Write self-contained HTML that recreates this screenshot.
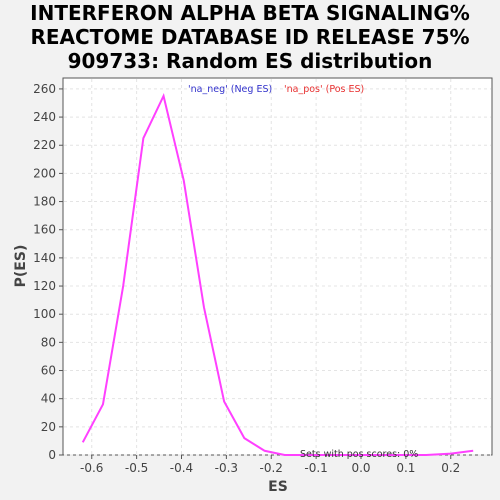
<!DOCTYPE html>
<html><head><meta charset="utf-8"><style>
body{margin:0;background:#f2f2f2;}
svg{display:block;font-family:"DejaVu Sans","Liberation Sans",sans-serif;}
</style></head><body>
<svg id="chart" width="500" height="500">
<rect x="0" y="0" width="500" height="500" fill="#f2f2f2"/>
<text x="250" y="20" text-anchor="middle" font-size="20" font-weight="bold" fill="#000">INTERFERON ALPHA BETA SIGNALING%</text>
<text x="250" y="44" text-anchor="middle" font-size="20" font-weight="bold" fill="#000">REACTOME DATABASE ID RELEASE 75%</text>
<text x="250" y="68" text-anchor="middle" font-size="20" font-weight="bold" fill="#000">909733: Random ES distribution</text>
<rect x="63" y="78" width="429" height="377" fill="#fff" stroke="#555"/>
<g id="grid"></g><g id="xticks"></g><g id="yticks"></g>
<polyline id="line" fill="none" stroke="#ff40ff" stroke-width="2"/>
<text x="188" y="92" font-size="9.5" fill="#3333cc">'na_neg' (Neg ES)</text>
<text x="284" y="92" font-size="9.5" fill="#e83030">'na_pos' (Pos ES)</text>
<text x="300" y="457" font-size="9.5" fill="#333">Sets with pos scores: 0%</text>
<text x="278" y="491" text-anchor="middle" font-size="14" font-weight="bold" fill="#444">ES</text>
<text x="25" y="266" text-anchor="middle" font-size="14" font-weight="bold" fill="#444" transform="rotate(-90 25 266)">P(ES)</text>
</svg>
<script>
const xs = [-0.62,-0.575,-0.53,-0.485,-0.44,-0.395,-0.35,-0.305,-0.26,-0.215,-0.17,-0.125,-0.08,-0.035,0.01,0.055,0.1,0.145,0.2,0.25];
const ys = [9,36,120,225,255,195,105,38,12,3,0,0,0,0,0,0,0,0,1,3];
const xTicks = [-0.6,-0.5,-0.4,-0.3,-0.2,-0.1,0.0,0.1,0.2];
const yTicks = [0,20,40,60,80,100,120,140,160,180,200,220,240,260];
const NS='http://www.w3.org/2000/svg';
function X(v){return 361+v*448.75;}
function Y(v){return 455-v*1.408;}
const grid=document.getElementById('grid'),xt=document.getElementById('xticks'),yt=document.getElementById('yticks');
xTicks.forEach(t=>{
  const l=document.createElementNS(NS,'line');
  l.setAttribute('x1',X(t));l.setAttribute('x2',X(t));l.setAttribute('y1',79);l.setAttribute('y2',455);
  l.setAttribute('stroke','#e4e4e4');l.setAttribute('stroke-dasharray','3,3');
  
  
  grid.appendChild(l);
  const tk=document.createElementNS(NS,'line');
  tk.setAttribute('x1',X(t));tk.setAttribute('x2',X(t));tk.setAttribute('y1',455);tk.setAttribute('y2',459);tk.setAttribute('stroke','#555');
  xt.appendChild(tk);
  const tx=document.createElementNS(NS,'text');
  tx.setAttribute('x',X(t));tx.setAttribute('y',472);tx.setAttribute('text-anchor','middle');tx.setAttribute('font-size','12');tx.setAttribute('fill','#444');
  tx.textContent=t.toFixed(1);
  
  
  xt.appendChild(tx);
});
yTicks.forEach(t=>{
  const l=document.createElementNS(NS,'line');
  l.setAttribute('x1',64);l.setAttribute('x2',491);l.setAttribute('y1',Y(t));l.setAttribute('y2',Y(t));
  l.setAttribute('stroke','#e4e4e4');l.setAttribute('stroke-dasharray','3,3');
  
  
  grid.appendChild(l);
  const tk=document.createElementNS(NS,'line');
  tk.setAttribute('x1',59);tk.setAttribute('x2',63);tk.setAttribute('y1',Y(t));tk.setAttribute('y2',Y(t));tk.setAttribute('stroke','#555');
  yt.appendChild(tk);
  const tx=document.createElementNS(NS,'text');
  tx.setAttribute('x',56);tx.setAttribute('y',Y(t)+4);tx.setAttribute('text-anchor','end');tx.setAttribute('font-size','12');tx.setAttribute('fill','#444');
  tx.textContent=t;
  
  
  yt.appendChild(tx);
});
document.getElementById('line').setAttribute('points',xs.map((x,i)=>X(x)+','+Y(ys[i])).join(' '));
</script>
</body></html>
